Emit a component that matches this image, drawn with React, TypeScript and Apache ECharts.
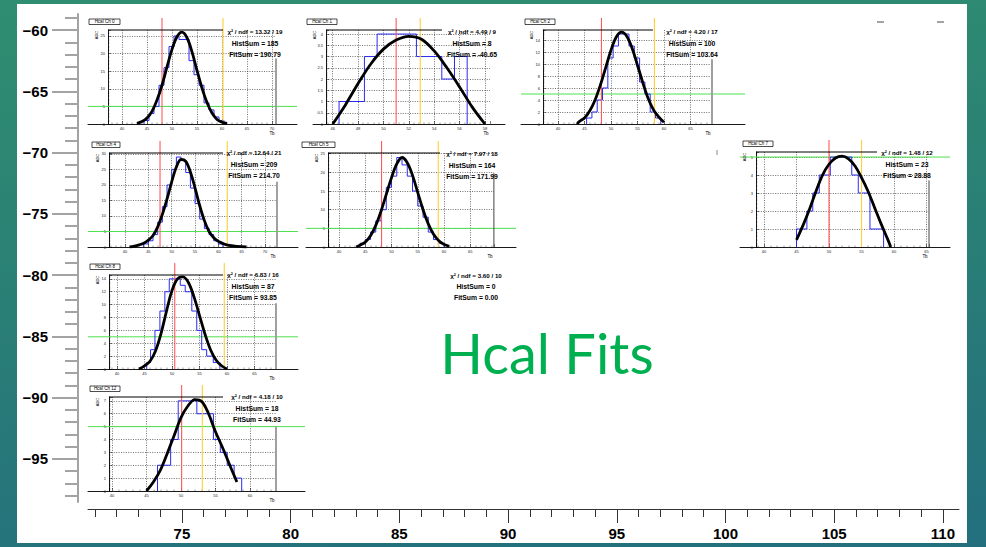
import { useEffect, useRef } from "react";
import * as echarts from "echarts";

// ---------- outer axes ----------
const OUTER_X_MAJOR = [75, 80, 85, 90, 95, 100, 105, 110];
const OUTER_X_MINOR = [71, 72, 73, 74, 75, 76, 77, 78, 79, 80, 81, 82, 83, 84, 85, 86, 87, 88, 89, 90, 91, 92, 93, 94, 95, 96, 97, 98, 99, 100, 101, 102, 103, 104, 105, 106, 107, 108, 109, 110];
const OUTER_Y_MAJOR = [-95, -90, -85, -80, -75, -70, -65, -60];
const OUTER_Y_MINOR = [-98, -97, -96, -95, -94, -93, -92, -91, -90, -89, -88, -87, -86, -85, -84, -83, -82, -81, -80, -79, -78, -77, -76, -75, -74, -73, -72, -71, -70, -69, -68, -67, -66, -65, -64, -63, -62, -61, -60, -59];

// ---------- panel texts ----------
const PANEL_NAMES = ["Hcal Ch 0", "Hcal Ch 1", "Hcal Ch 2", "Hcal Ch 4", "Hcal Ch 5", "Hcal Ch 7", "Hcal Ch 8", "Hcal Ch 12"];
const CHI2 = ["13.32 / 19", "4.49 / 9", "4.20 / 17", "12.64 / 21", "7.97 / 18", "1.48 / 12", "6.83 / 16", "4.18 / 10"];
const HIST_SUMS = ["185", "8", "100", "209", "164", "23", "87", "18"];
const FIT_SUMS = ["190.79", "-40.65", "103.64", "214.70", "171.99", "28.88", "93.85", "44.93"];
const EMPTY_STATS = ["3.60 / 10", "0", "0.00"];

// ---------- panel markers ----------
const RED_CUTS = [48.0, 51.0, 48.2, 47.5, 48.1, 50.0, 50.5, 50.1];
const YELLOW_CUTS = [60.2, 52.9, 58.2, 61.9, 58.9, 55.0, 59.5, 53.1];
const GREEN_LEVELS: (number | null)[] = [5, null, 5, 5, 5, 5, 5, 5];
const EDGE_LINES: ([number, number] | null)[] = [[70.8, 18.6], null, [69.06, 10.8], [72.55, 21], [69.5, 19.8], [65.38, 3.7], [68.9, 10.2], [63.77, 5]];

// ---------- histograms: [lower edge, count] ----------
const HIST_CH0 = [[44.4, 1], [45.4, 3], [46.4, 5], [47.4, 11], [48.4, 16], [49.4, 22], [50.4, 25], [51.4, 24], [52.4, 24], [53.4, 18], [54.4, 14], [55.4, 11], [56.4, 6], [57.4, 4], [58.4, 2], [59.4, 1]];
const HIST_CH1 = [[46.5, 1], [48.5, 3], [49.5, 4], [52.6, 3], [54.6, 2], [55.6, 3]];
const HIST_CH2 = [[45.4, 1], [46.4, 2], [47.4, 4], [48.4, 6], [49.4, 11], [50.4, 13], [51.4, 15], [52.4, 15], [53.4, 13], [54.4, 11], [55.4, 7], [56.4, 5], [57.4, 2], [58.4, 1]];
const HIST_CH4 = [[44, 1], [45, 2], [46, 4], [47, 8], [48, 13], [49, 20], [50, 25], [51, 29], [52, 28], [53, 24], [54, 19], [55, 14], [56, 9], [57, 6], [58, 4], [59, 2], [60, 1]];
const HIST_CH5 = [[44, 1], [45, 2], [46, 4], [47, 7], [48, 10], [49, 16], [50, 19], [51, 24], [52, 22], [53, 19], [54, 15], [55, 11], [56, 8], [57, 4], [58, 2], [59, 1]];
const HIST_CH7 = [[45.0, 1], [46.6, 2], [47.5, 3], [48.5, 4], [50.2, 5], [53.5, 4], [54.5, 3], [56.3, 1]];
const HIST_CH8 = [[45.4, 1], [46.1, 3], [46.9, 6], [47.8, 9], [48.7, 12], [49.5, 14], [51.5, 13], [52.4, 12], [53.6, 9], [54.5, 6], [55.4, 3], [56.3, 2], [57.5, 1]];
const HIST_CH12 = [[46.6, 2], [48.5, 4], [49.6, 7], [52.3, 6], [54.7, 4], [55.7, 3], [56.7, 2], [57.7, 1]];
const HISTS = [HIST_CH0, HIST_CH1, HIST_CH2, HIST_CH4, HIST_CH5, HIST_CH7, HIST_CH8, HIST_CH12];
const HIST_ENDS = [60.4, 56.6, 59.4, 61, 60, 58.4, 58.7, 58.8];

// ---------- fit curves: [x, y] ----------
const FIT_CH0 = [[43, 0.2], [44, 0.7], [45, 1.7], [46, 3.6], [47, 6.8], [48, 11], [49, 16.2], [50, 21.2], [51, 24.8], [52, 26.1], [53, 24.5], [54, 20.5], [55, 15.2], [56, 10.2], [57, 6.1], [58, 3.1], [59, 1.3], [60, 0.5], [61, 0.15]];
const FIT_CH1 = [[46, 0], [47, 0.85], [48, 1.8], [49, 2.67], [50, 3.33], [51, 3.73], [52, 3.9], [53, 3.77], [54, 3.25], [55, 2.5], [56, 1.65], [57, 0.75], [58, 0]];
const FIT_CH2 = [[43.6, 0], [44, 0.4], [45, 1.0], [46, 2.2], [47, 4.0], [48, 6.5], [49, 9.4], [50, 12.3], [51, 14.5], [52, 15.3], [53, 14.6], [54, 12.6], [55, 9.8], [56, 6.9], [57, 4.3], [58, 2.4], [59, 1.2], [60, 0.3]];
const FIT_CH4 = [[41, 0], [42, 0.3], [43, 0.7], [44, 1.2], [45, 2.2], [46, 3.7], [47, 6.5], [48, 10.5], [49, 15.5], [50, 21], [51, 25.8], [52, 28.2], [53, 27.6], [54, 24.2], [55, 19], [56, 13.3], [57, 8.5], [58, 5], [59, 3], [60, 1.8], [61, 1.1], [62, 0.6], [64, 0.2], [66, 0]];
const FIT_CH5 = [[43.3, 0], [44, 0.5], [45, 1.3], [46, 3], [47, 5.8], [48, 9.6], [49, 14.1], [50, 18.6], [51, 22.3], [52, 24], [53, 22.6], [54, 19.2], [55, 14.6], [56, 10], [57, 6.2], [58, 3.4], [59, 1.7], [60, 0.7], [61, 0.2]];
const FIT_CH7 = [[45, 0.4], [46, 1.2], [47, 2.1], [48, 3.1], [49, 4], [50, 4.6], [51, 4.95], [52, 5.05], [53, 4.9], [54, 4.5], [55, 3.85], [56, 3.1], [57, 2.2], [58, 1.3], [59, 0.45], [59.5, 0]];
const FIT_CH8 = [[44, 0], [45, 0.5], [46, 1.2], [47, 2.8], [48, 5.5], [49, 9], [50, 12.2], [51, 14], [52, 14.3], [53, 13.4], [54, 11.2], [55, 8.3], [56, 5.4], [57, 3], [58, 1.4], [59, 0.5], [60, 0]];
const FIT_CH12 = [[45, 0], [46, 0.7], [47, 1.6], [48, 2.9], [49, 4.3], [50, 5.7], [51, 6.6], [52, 7.1], [53, 6.95], [54, 6.0], [55, 4.6], [56, 3.4], [57, 2.1], [58.1, 0.7]];
const FITS = [FIT_CH0, FIT_CH1, FIT_CH2, FIT_CH4, FIT_CH5, FIT_CH7, FIT_CH8, FIT_CH12];

// ---------- layout (pixels) ----------
type Layout = {
  fl: number; fr: number; ft: number; fb: number; pl: number; pr: number;
  xMin: number; xMax: number; yMax: number; xStep: number; yStep: number;
  tx: number; tw: number; sx: number; sy: number; sl: number; edgeColor: string; edgeW: number;
};
const LAYOUT: Layout[] = [
  { fl: 108, fr: 276, ft: 30, fb: 124, pl: 88, pr: 297, xMin: 37.2, xMax: 70.8, yMax: 26.7, xStep: 5, yStep: 5, tx: 89, tw: 31, sx: 255, sy: 31, sl: 223, edgeColor: "#a0a0a0", edgeW: 2 },
  { fl: 326, fr: 490, ft: 30, fb: 124, pl: 313, pr: 505, xMin: 45.47, xMax: 58.4, yMax: 4.18, xStep: 2, yStep: 0.5, tx: 307, tw: 30, sx: 472, sy: 31, sl: 442, edgeColor: "#a0a0a0", edgeW: 2 },
  { fl: 543, fr: 712, ft: 30, fb: 124, pl: 521, pr: 745, xMin: 37.17, xMax: 69.06, yMax: 15.67, xStep: 5, yStep: 2, tx: 525, tw: 30, sx: 692, sy: 31, sl: 653, edgeColor: "#a0a0a0", edgeW: 2 },
  { fl: 109, fr: 277, ft: 153, fb: 247, pl: 88, pr: 298, xMin: 36.57, xMax: 72.55, yMax: 30.3, xStep: 5, yStep: 5, tx: 92, tw: 28, sx: 254, sy: 152, sl: 223, edgeColor: "#a0a0a0", edgeW: 2 },
  { fl: 328, fr: 494, ft: 153, fb: 247, pl: 306, pr: 516, xMin: 37.9, xMax: 69.52, yMax: 25.2, xStep: 5, yStep: 5, tx: 302, tw: 33, sx: 472, sy: 153, sl: 440, edgeColor: "#444", edgeW: 1 },
  { fl: 756, fr: 929, ft: 152, fb: 247, pl: 740, pr: 950, xMin: 38.77, xMax: 65.38, yMax: 5.28, xStep: 5, yStep: 1, tx: 743, tw: 30, sx: 907, sy: 152, sl: 877, edgeColor: "#444", edgeW: 1 },
  { fl: 109, fr: 276, ft: 275, fb: 369, pl: 88, pr: 298, xMin: 38.55, xMax: 68.9, yMax: 14.6, xStep: 5, yStep: 2, tx: 90, tw: 30, sx: 253, sy: 274, sl: 223, edgeColor: "#a0a0a0", edgeW: 2 },
  { fl: 109, fr: 276, ft: 397, fb: 491, pl: 88, pr: 305, xMin: 39.57, xMax: 63.77, yMax: 7.3, xStep: 5, yStep: 1, tx: 90, tw: 30, sx: 257, sy: 396, sl: 223, edgeColor: "#a0a0a0", edgeW: 2 },
];

const FONT = "Liberation Sans";

function txt(x: number, y: number, text: string, size: number, opts: any = {}) {
  return {
    type: "text",
    x,
    y,
    rotation: opts.rotation || 0,
    z: 100,
    silent: true,
    style: {
      text,
      fontSize: size,
      fontFamily: opts.family || FONT,
      fontWeight: opts.weight || "normal",
      fill: opts.fill || "#000",
      align: opts.align || "center",
      textAlign: opts.align || "center",
      verticalAlign: "middle",
      textVerticalAlign: "middle",
    },
  };
}

function buildOption() {
  const grids: any[] = [{ left: 88, top: 14, width: 871, height: 488 }];
  const xAxes: any[] = [
    {
      type: "value", gridIndex: 0, min: 70.68, max: 110.74, position: "bottom", offset: 7,
      axisLine: { show: true, onZero: false, lineStyle: { color: "#333", width: 1 } },
      axisTick: { show: true, customValues: OUTER_X_MAJOR, length: 14, lineStyle: { color: "#333", width: 1 } },
      axisLabel: { show: true, customValues: OUTER_X_MAJOR, fontSize: 15, fontWeight: "bold", color: "#000", margin: 17, fontFamily: FONT },
      splitLine: { show: false },
    },
    {
      type: "value", gridIndex: 0, min: 70.68, max: 110.74, position: "bottom", offset: 7,
      axisLine: { show: false },
      axisTick: { show: true, customValues: OUTER_X_MINOR, length: 8, lineStyle: { color: "#333", width: 1 } },
      axisLabel: { show: false },
      splitLine: { show: false },
    },
  ];
  const yAxes: any[] = [
    {
      type: "value", gridIndex: 0, min: -98.51, max: -58.69, position: "left", offset: 10,
      axisLine: { show: true, onZero: false, lineStyle: { color: "#a3a3a3", width: 2 } },
      axisTick: { show: true, customValues: OUTER_Y_MAJOR, length: 26, lineStyle: { color: "#a3a3a3", width: 2 } },
      axisLabel: {
        show: true, customValues: OUTER_Y_MAJOR, fontSize: 15, fontWeight: "bold", color: "#000", margin: 30, fontFamily: FONT,
        formatter: (v: number) => (v < 0 ? "\u2212" + Math.abs(v) : String(v)),
      },
      splitLine: { show: false },
    },
    {
      type: "value", gridIndex: 0, min: -98.51, max: -58.69, position: "left", offset: 10,
      axisLine: { show: false },
      axisTick: { show: true, customValues: OUTER_Y_MINOR, length: 13, lineStyle: { color: "#a3a3a3", width: 2 } },
      axisLabel: { show: false },
      splitLine: { show: false },
    },
  ];
  const series: any[] = [];
  const graphics: any[] = [];

  LAYOUT.forEach((L, i) => {
    const pxX = (L.fr - L.fl) / (L.xMax - L.xMin);
    const pxY = (L.fb - L.ft) / L.yMax;
    const padT = L.ft - 12;
    const padXMin = L.xMin - (L.fl - L.pl) / pxX;
    const padXMax = L.xMax + (L.pr - L.fr) / pxX;
    const padYMax = L.yMax + 12 / pxY;

    const fg = grids.length;
    grids.push({ left: L.fl, top: L.ft, width: L.fr - L.fl, height: L.fb - L.ft });
    const pg = grids.length;
    grids.push({ left: L.pl, top: padT, width: L.pr - L.pl, height: L.fb - padT });

    const dotted = { show: true, showMinLine: false, showMaxLine: false, lineStyle: { color: "#333", width: 0.7, type: [1, 1.4] } };
    const fx = xAxes.length;
    xAxes.push({
      type: "value", gridIndex: fg, min: L.xMin, max: L.xMax, minInterval: L.xStep, maxInterval: L.xStep,
      axisLine: { show: false, onZero: false },
      axisTick: { show: true, inside: true, length: 3, lineStyle: { color: "#000", width: 0.5 } },
      minorTick: { show: true, splitNumber: 5, length: 1.5, lineStyle: { color: "#000", width: 0.4 } },
      axisLabel: { show: true, fontSize: 4, margin: 2, color: "#222", fontFamily: FONT, showMinLabel: false, showMaxLabel: false },
      splitLine: dotted,
    });
    const px = xAxes.length;
    xAxes.push({
      type: "value", gridIndex: pg, min: padXMin, max: padXMax,
      axisLine: { show: true, onZero: false, lineStyle: { color: "#000", width: 0.9 } },
      axisTick: { show: false }, axisLabel: { show: false }, splitLine: { show: false },
    });
    const fy = yAxes.length;
    yAxes.push({
      type: "value", gridIndex: fg, min: 0, max: L.yMax, minInterval: L.yStep, maxInterval: L.yStep,
      axisLine: { show: true, onZero: false, lineStyle: { color: "#000", width: 0.9 } },
      axisTick: { show: true, inside: true, length: 3, lineStyle: { color: "#000", width: 0.5 } },
      minorTick: { show: true, splitNumber: 5, length: 1.5, lineStyle: { color: "#000", width: 0.4 } },
      axisLabel: { show: true, fontSize: 4, margin: 3, color: "#222", fontFamily: FONT, showMaxLabel: false },
      splitLine: dotted,
    });
    const py = yAxes.length;
    yAxes.push({ type: "value", gridIndex: pg, min: 0, max: padYMax, show: false, splitLine: { show: false } });

    const plain = { type: "line", symbol: "none", silent: true, animation: false };

    const g = GREEN_LEVELS[i];
    if (g !== null) {
      series.push({ ...plain, xAxisIndex: px, yAxisIndex: py, z: 3, data: [[padXMin, g], [padXMax, g]], lineStyle: { color: "#4fe04f", width: 1 } });
    }
    const e = EDGE_LINES[i];
    if (e) {
      series.push({ ...plain, xAxisIndex: px, yAxisIndex: py, z: 3, data: [[e[0], 0], [e[0], e[1]]], lineStyle: { color: L.edgeColor, width: L.edgeW } });
    }
    const hist = HISTS[i];
    const hdata = [[hist[0][0], 0], ...hist, [HIST_ENDS[i], 0]];
    series.push({ ...plain, xAxisIndex: fx, yAxisIndex: fy, z: 4, step: "end", data: hdata, lineStyle: { color: "#2b2bf0", width: 1 } });
    series.push({ ...plain, xAxisIndex: px, yAxisIndex: py, z: 5, data: [[RED_CUTS[i], 0], [RED_CUTS[i], padYMax]], lineStyle: { color: "#ff5a5a", width: 1.1 } });
    series.push({ ...plain, xAxisIndex: px, yAxisIndex: py, z: 5, data: [[YELLOW_CUTS[i], 0], [YELLOW_CUTS[i], padYMax]], lineStyle: { color: "#ffcf3a", width: 1.1 } });
    series.push({ ...plain, xAxisIndex: fx, yAxisIndex: fy, z: 6, smooth: 0.35, data: FITS[i], lineStyle: { color: "#000", width: 2.8 } });

    // frame top line, title, labels, stats
    graphics.push({ type: "line", silent: true, z: 100, shape: { x1: L.fl, y1: L.ft, x2: L.sl, y2: L.ft }, style: { stroke: "#000", lineWidth: 1 } });
    graphics.push({ type: "rect", silent: true, z: 100, shape: { x: L.tx, y: L.ft - 11, width: L.tw, height: 5.5 }, style: { fill: "#fff", stroke: "#000", lineWidth: 0.7 } });
    graphics.push(txt(L.tx + L.tw / 2, L.ft - 8.2, PANEL_NAMES[i], 4.5));
    graphics.push(txt(L.fl - 12, L.ft + 5, "ADC", 4, { rotation: Math.PI / 2 }));
    graphics.push(txt(L.fr - 4, L.fb + 9, "Tb", 4.5));
    graphics.push(txt(L.sx, L.sy, "\u03C7\u00B2 / ndf = " + CHI2[i], 6.2, { weight: "bold" }));
    graphics.push(txt(L.sx, L.sy + 12, "HistSum = " + HIST_SUMS[i], 6.8, { weight: "bold" }));
    graphics.push(txt(L.sx, L.sy + 23, "FitSum = " + FIT_SUMS[i], 6.8, { weight: "bold" }));
  });

  graphics.push(txt(476, 275, "\u03C7\u00B2 / ndf = " + EMPTY_STATS[0], 6.2, { weight: "bold" }));
  graphics.push(txt(476, 286, "HistSum = " + EMPTY_STATS[1], 6.8, { weight: "bold" }));
  graphics.push(txt(476, 297, "FitSum = " + EMPTY_STATS[2], 6.8, { weight: "bold" }));
  graphics.push(txt(547, 352, "Hcal Fits", 56, { family: "Lato", fill: "#00b050" }));
  // small stray marks seen on the slide
  graphics.push({ type: "line", silent: true, z: 100, shape: { x1: 877, y1: 22, x2: 884, y2: 22 }, style: { stroke: "#666", lineWidth: 1.2 } });
  graphics.push({ type: "line", silent: true, z: 100, shape: { x1: 937, y1: 22, x2: 944, y2: 22 }, style: { stroke: "#666", lineWidth: 1.2 } });
  graphics.push({ type: "line", silent: true, z: 100, shape: { x1: 717, y1: 150, x2: 717, y2: 155 }, style: { stroke: "#888", lineWidth: 1 } });

  return {
    animation: false,
    backgroundColor: "transparent",
    textStyle: { fontFamily: FONT },
    grid: grids,
    xAxis: xAxes,
    yAxis: yAxes,
    series,
    graphic: { elements: graphics },
  };
}

export default function App() {
  const ref = useRef<HTMLDivElement>(null);
  useEffect(() => {
    if (!ref.current) return;
    const chart = echarts.init(ref.current, null, { renderer: "svg", width: 986, height: 547 });
    chart.setOption(buildOption() as any);
    return () => chart.dispose();
  }, []);
  return (
    <div
      style={{
        position: "fixed", left: 0, top: 0, width: 986, height: 547, overflow: "hidden",
        background: "linear-gradient(175deg, #2f8e70 0%, #2a8075 45%, #236f7e 100%)",
      }}
    >
      <div style={{ position: "absolute", left: 17, top: 4, width: 950, height: 539, background: "#fff" }} />
      <div ref={ref} style={{ position: "absolute", left: 0, top: 0, width: 986, height: 547 }} />
    </div>
  );
}
